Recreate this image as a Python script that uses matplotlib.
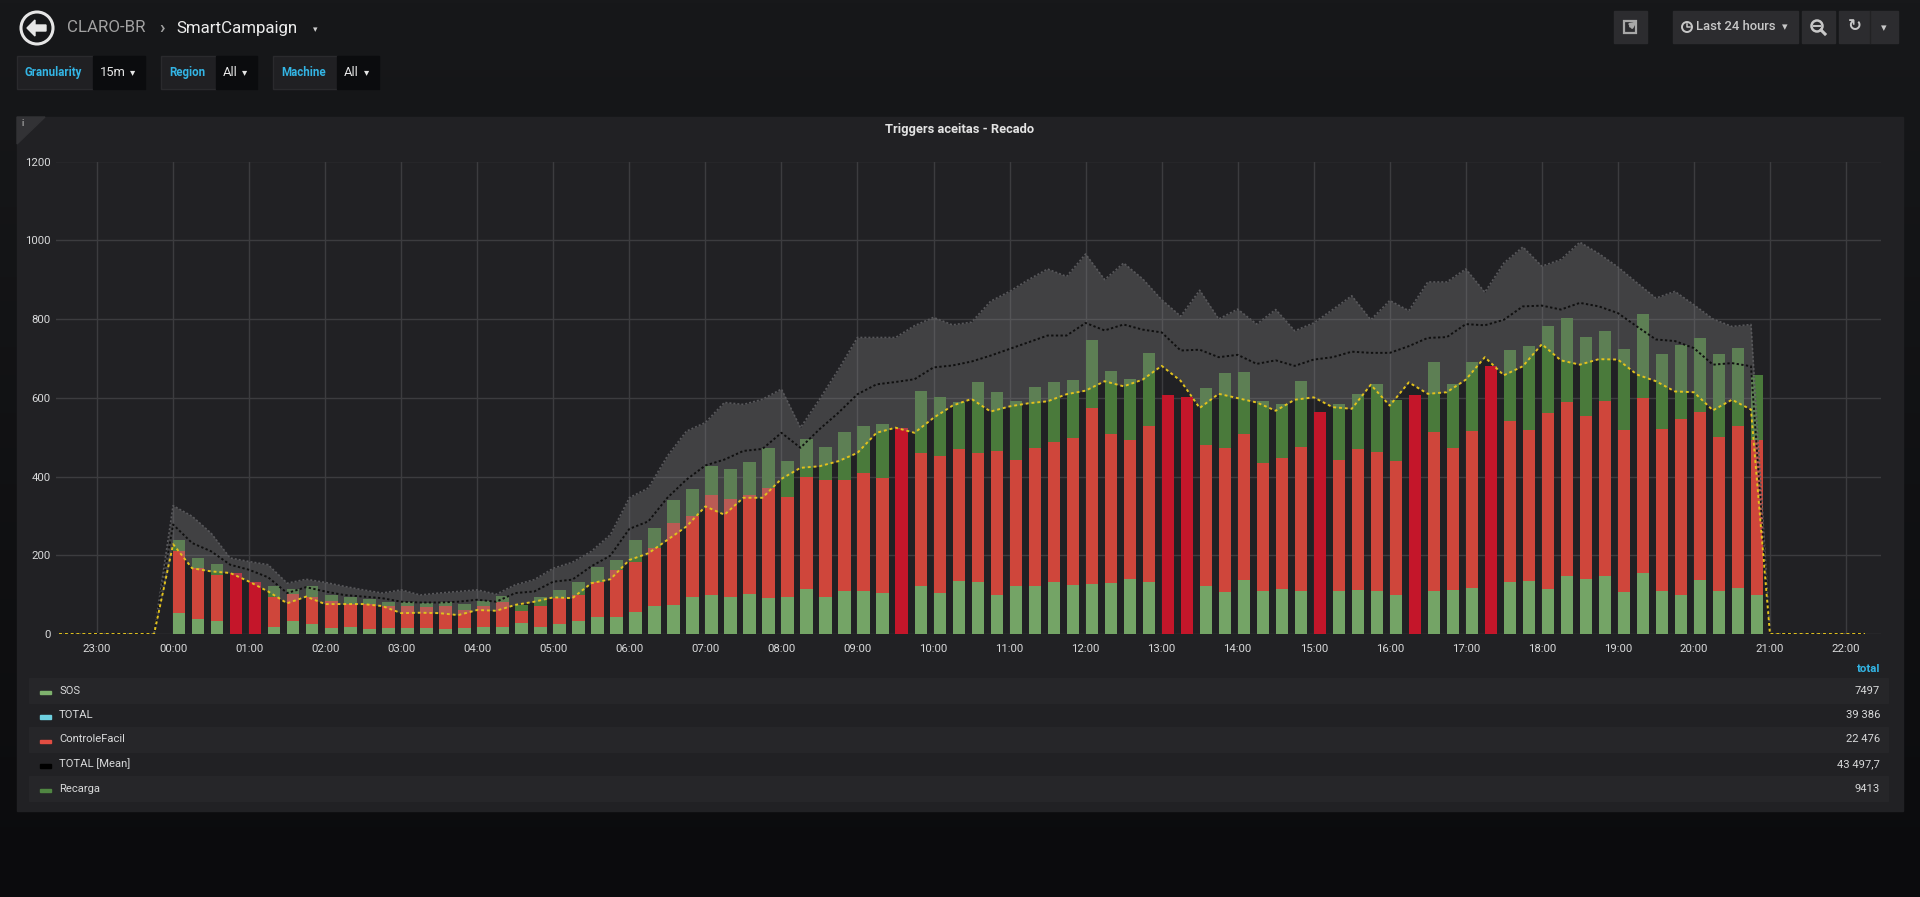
import numpy as np
import matplotlib.pyplot as plt
from matplotlib.patches import Rectangle, Circle, Polygon

plt.rcParams['font.family'] = ['Roboto', 'DejaVu Sans']

W, H = 1920, 897

# 15 minute slots, 00:00 .. 20:45
sos = [54, 39, 33, 0, 0, 19, 34, 25, 14, 19, 13, 14, 16, 14, 13, 14, 19, 19, 27, 19,
       25, 33, 44, 42, 57, 72, 74, 93, 99, 95, 101, 91, 93, 115, 95, 108, 108, 105, 0, 121,
       104, 135, 131, 100, 121, 123, 131, 125, 128, 130, 140, 131, 0, 0, 122, 107, 136, 108, 115, 108,
       0, 110, 112, 109, 98, 0, 110, 112, 118, 0, 133, 135, 115, 148, 139, 148, 107, 156, 110, 100,
       136, 108, 116, 100]
controle = [158, 128, 118, 155, 132, 74, 68, 70, 71, 57, 63, 56, 54, 54, 57, 47, 51, 63, 32, 53,
            66, 65, 89, 121, 127, 146, 208, 206, 253, 248, 253, 279, 255, 283, 295, 284, 300, 292, 522, 339,
            348, 336, 328, 364, 321, 349, 357, 372, 447, 378, 352, 398, 606, 603, 359, 365, 373, 326, 332, 367,
            565, 333, 358, 354, 341, 607, 403, 360, 397, 681, 409, 384, 446, 440, 414, 443, 412, 444, 410, 446,
            427, 393, 411, 392]
recarga = [27, 25, 26, 0, 0, 28, 13, 26, 14, 17, 12, 12, 12, 12, 12, 15, 14, 15, 15, 21,
           21, 33, 36, 25, 55, 50, 59, 70, 74, 77, 83, 103, 91, 96, 85, 121, 120, 137, 0, 157,
           150, 118, 180, 151, 149, 155, 151, 147, 171, 159, 156, 185, 0, 0, 143, 191, 157, 158, 136, 168,
           0, 140, 140, 172, 155, 0, 179, 163, 175, 0, 180, 212, 220, 214, 201, 179, 204, 213, 191, 189,
           190, 211, 200, 167]
# slots where only ControleFacil came in (crimson bars)
solo_slots = [3, 4, 38, 52, 53, 60, 65, 69]

band_upper = [326, 299, 256, 193, 184, 176, 129, 139, 131, 121, 112, 104, 112, 99, 104, 108, 112, 101, 125, 138,
              167, 182, 210, 252, 346, 371, 452, 515, 537, 588, 583, 596, 622, 524, 596, 672, 753, 753, 753, 783,
              804, 785, 792, 845, 870, 900, 927, 908, 965, 900, 942, 902, 849, 807, 873, 800, 825, 787, 824, 770,
              790, 824, 859, 798, 847, 821, 894, 894, 927, 868, 942, 983, 934, 951, 995, 966, 932, 892, 853, 870,
              836, 800, 781, 786]
band_mean = [278, 231, 210, 176, 163, 144, 104, 119, 108, 99, 95, 91, 82, 80, 80, 82, 87, 82, 104, 108,
             133, 138, 172, 199, 267, 286, 346, 392, 428, 443, 465, 470, 511, 473, 520, 562, 609, 634, 640, 647,
             677, 682, 692, 707, 724, 741, 758, 758, 790, 771, 786, 773, 766, 720, 722, 703, 709, 686, 695, 681,
             697, 703, 717, 714, 714, 731, 752, 754, 787, 784, 798, 832, 834, 824, 841, 832, 815, 781, 748, 744,
             726, 684, 688, 680]
band_lower = [228, 167, 159, 155, 133, 108, 78, 95, 76, 76, 76, 71, 53, 54, 53, 48, 61, 59, 74, 82,
              93, 91, 129, 139, 188, 205, 239, 273, 324, 303, 346, 346, 394, 422, 426, 439, 460, 511, 524, 511,
              549, 580, 597, 565, 578, 586, 591, 609, 618, 642, 629, 646, 681, 643, 574, 610, 599, 588, 567, 595,
              601, 576, 572, 633, 580, 639, 610, 614, 646, 703, 657, 680, 736, 695, 684, 698, 697, 659, 642, 616,
              614, 568, 595, 570]

hour_labels = ['23:00', '00:00', '01:00', '02:00', '03:00', '04:00', '05:00', '06:00', '07:00', '08:00',
               '09:00', '10:00', '11:00', '12:00', '13:00', '14:00', '15:00', '16:00', '17:00', '18:00',
               '19:00', '20:00', '21:00', '22:00']
y_ticks = [0, 200, 400, 600, 800, 1000, 1200]

legend_names = ['SOS', 'TOTAL', 'ControleFacil', 'TOTAL [Mean]', 'Recarga']
legend_totals = ['7497', '39 386', '22 476', '43 497,7', '9413']
legend_colors = ['#7EB26D', '#6ED0E0', '#E24D42', '#000000', '#508642']

PAGE = '#141517'
PANEL = '#212124'
TXT = '#d8d9da'
BLUE = '#33b5e5'


def px(x0, y0, x1, y1):
    return [x0 / W, 1 - y1 / H, (x1 - x0) / W, (y1 - y0) / H]


fig = plt.figure(figsize=(W / 100, H / 100), dpi=100, facecolor=PAGE)
bg = fig.add_axes([0, 0, 1, 1])
bg.set_xlim(0, W)
bg.set_ylim(H, 0)
bg.axis('off')

# page background gets darker towards the bottom
top_c = np.array([23, 24, 26]) / 255
bot_c = np.array([11, 11, 13]) / 255
grad = np.linspace(0, 1, 256)[:, None, None]
bg.imshow(top_c + (bot_c - top_c) * grad, extent=[0, W, H, 0], aspect='auto', zorder=0)

# ---- header
bg.add_patch(Circle((37, 28), 16, fill=False, ec='#e6e6e6', lw=2.2))
bg.add_patch(Polygon([(27, 28), (35, 20), (35, 25), (46, 25), (46, 31), (35, 31), (35, 36)],
                     closed=True, color='#e6e6e6'))
bg.text(67, 28, 'CLARO-BR', fontsize=12.2, color='#a2a2a2', va='center')
bg.text(159, 28, '›', fontsize=13, color='#a2a2a2', va='center', weight='bold')
bg.text(176, 28, 'SmartCampaign', fontsize=12.2, color='#ececec', va='center')
bg.text(313, 30, '▾', fontsize=6.5, color='#cfcfcf', va='center')

vars_ = [('Granularity', '15m', 16.5, 92.5, 145), ('Region', 'All', 161, 215.5, 257),
         ('Machine', 'All', 273, 337, 378.5)]
for lab, val, x0, x1, x2 in vars_:
    bg.add_patch(Rectangle((x0, 56), x1 - x0, 33, color='#202023', ec='#2a2a2d', lw=1))
    bg.add_patch(Rectangle((x1, 56), x2 - x1, 33, color='#0b0c0e'))
    bg.text(x0 + 8, 72.5, lab, fontsize=8.3, color=BLUE, weight='bold', va='center')
    bg.text(x1 + 7, 72.5, val, fontsize=9.3, color='#e6e6e6', va='center')
    bg.text(x2 - 12, 72.5, '▾', fontsize=7.5, color='#e6e6e6', va='center', ha='center')

for x0, x1 in [(1614, 1647), (1673, 1798), (1802, 1835), (1839, 1898)]:
    bg.add_patch(Rectangle((x0, 11), x1 - x0, 32, color='#2c2c2f'))
bg.plot([1869.5, 1869.5], [11, 43], color='#222224', lw=1)
# share icon
bg.add_patch(Rectangle((1624, 21), 12, 12, fill=False, ec='#a8a8a8', lw=1.6))
bg.annotate('', xy=(1639, 20), xytext=(1628, 28),
            arrowprops=dict(arrowstyle='-|>', color='#a8a8a8', lw=1.8, mutation_scale=8))
# time picker
bg.add_patch(Circle((1687, 27), 5, fill=False, ec='#c8c8c8', lw=1.4))
bg.plot([1687, 1687, 1690], [24, 27.5, 27.5], color='#c8c8c8', lw=1.1)
bg.text(1696, 27, 'Last 24 hours', fontsize=9.4, color='#c8c8c8', va='center', weight='medium')
bg.text(1785, 27.5, '▾', fontsize=8, color='#c8c8c8', va='center', ha='center')
# zoom out
bg.add_patch(Circle((1817, 26), 5.5, fill=False, ec='#c8c8c8', lw=1.8))
bg.plot([1814, 1820], [26, 26], color='#c8c8c8', lw=1.4)
bg.plot([1821, 1825], [30, 34], color='#c8c8c8', lw=2.2)
bg.text(1855, 27, '↻', fontsize=12, color='#c8c8c8', va='center', ha='center', weight='bold')
bg.text(1884, 28, '▾', fontsize=8, color='#c8c8c8', va='center', ha='center')

# ---- panel
bg.add_patch(Rectangle((17, 117), 1886, 694, color=PANEL))
bg.add_patch(Polygon([(17, 117), (45, 117), (17, 144)], closed=True, color='#323235'))
bg.text(23, 124, 'i', fontsize=6.5, color='#9a9a9a', va='center', ha='center', weight='bold')
bg.text(960, 130, 'Triggers aceitas - Recado', fontsize=9.3, color='#e3e3e3', weight='bold',
        ha='center', va='center')

# legend table
bg.text(1880, 669, 'total', fontsize=8.2, color=BLUE, weight='bold', ha='right', va='center')
for k, (name, tot, col) in enumerate(zip(legend_names, legend_totals, legend_colors)):
    yc = 690.5 + 24.5 * k
    if k % 2 == 0:
        bg.add_patch(Rectangle((29, yc - 12), 1859, 24.5, color='#262629'))
    bg.add_patch(Rectangle((40, yc + 0.5), 11, 3.5, color=col))
    bg.text(59, yc, name, fontsize=8.1, color=TXT, va='center')
    bg.text(1880, yc, tot, fontsize=8.1, color=TXT, va='center', ha='right')

# ---- graph
ax = fig.add_axes(px(56, 161.5, 1881, 634))
ax.set_facecolor('none')
t = np.arange(len(sos)) * 0.25
sos_a = np.array(sos)
cf_a = np.array(controle)
cf_cols = ['#c4162a' if i in solo_slots else '#cf463b' for i in range(len(sos))]
bw = 0.162
ax.bar(t, sos_a, width=bw, align='edge', color='#74a466', zorder=2)
ax.bar(t, cf_a, bottom=sos_a, width=bw, align='edge', color=cf_cols, zorder=2)
ax.bar(t, recarga, bottom=sos_a + cf_a, width=bw, align='edge', color='#4a7a3b', zorder=2)

pad = [0] * 6
tl = np.arange(-6, len(sos) + 6) * 0.25
up = np.array(pad + band_upper + pad)
mn = np.array(pad + band_mean + pad)
lo = np.array(pad + band_lower + pad)
ax.fill_between(tl, lo, up, color='#8c8c8e', alpha=0.3, lw=0, zorder=3)
ax.plot(tl, up, color='#58585b', lw=1.2, ls=(0, (1.2, 1.2)), zorder=4)
ax.plot(tl, mn, color='#101010', lw=1.4, ls=(0, (1.2, 1.2)), zorder=4)
ax.plot(tl, lo, color='#e2c21c', lw=1.4, ls=(0, (1.5, 1.5)), zorder=5)

ax.set_xlim(-1.54, 22.46)
ax.set_ylim(0, 1200)
ax.set_xticks(np.arange(-1, 23))
ax.set_xticklabels(hour_labels)
ax.set_yticks(y_ticks)
ax.tick_params(length=0, colors=TXT, labelsize=8.2)
ax.tick_params(axis='x', pad=7)
ax.tick_params(axis='y', pad=4)
ax.grid(color='#3c3c3f', lw=1, zorder=0)
ax.set_axisbelow(True)
for s in ax.spines.values():
    s.set_visible(False)

fig.savefig('out.png', dpi=100, facecolor=PAGE)
